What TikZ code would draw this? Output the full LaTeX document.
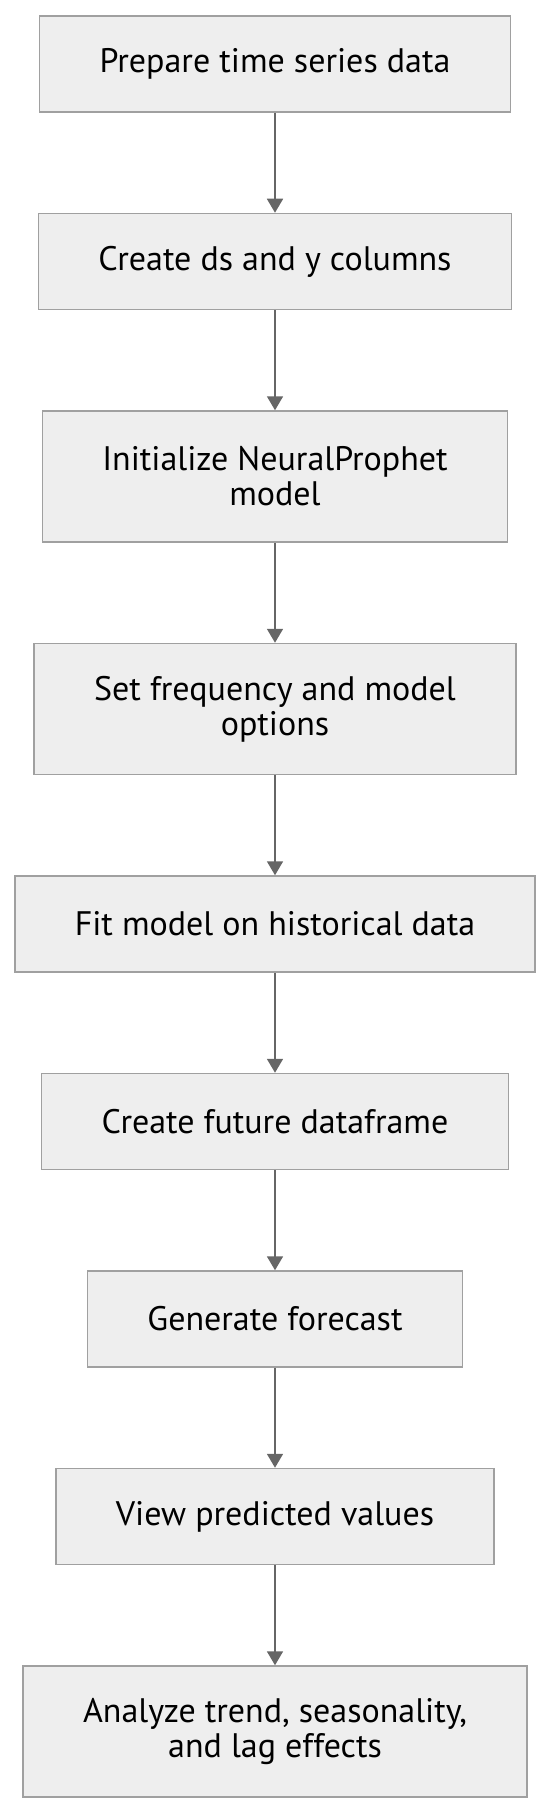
\documentclass[tikz,border=0pt]{standalone}
\usepackage{fontspec}
\setmainfont{PT Sans}
\usetikzlibrary{positioning,arrows.meta}
\definecolor{boxfill}{HTML}{EEEEEE}
\definecolor{boxline}{HTML}{A0A0A0}
\definecolor{flowline}{HTML}{666666}
\begin{document}
\begin{tikzpicture}[x=1pt,y=1pt,
    stepbox/.style={draw=boxline,line width=1.5pt,fill=boxfill,
      minimum height=96pt,inner xsep=60pt,align=center,
      font=\fontsize{34}{35}\selectfont},
    twoline/.style={stepbox,minimum height=131pt},
    flow/.style={draw=flowline,line width=1.8pt,
      -{Triangle[width=16pt,length=14pt]}},
    node distance=100pt]
    \useasboundingbox (0,0) rectangle (550,-1811);

    % Steps
    \node[stepbox] (prep) at (275,-64) {Prepare time series data};
    \node[stepbox,below=of prep] (cols) {Create ds and y columns};
    \node[twoline,below=of cols] (init) {Initialize NeuralProphet\\model};
    \node[twoline,below=of init] (freq) {Set frequency and model\\options};
    \node[stepbox,below=of freq] (fit) {Fit model on historical data};
    \node[stepbox,below=of fit] (future) {Create future dataframe};
    \node[stepbox,below=of future] (forecast) {Generate forecast};
    \node[stepbox,below=of forecast] (view) {View predicted values};
    \node[twoline,below=of view] (analyze) {Analyze trend, seasonality,\\and lag effects};

    % Arrows
    \foreach \a/\b in {prep/cols,cols/init,init/freq,freq/fit,fit/future,
        future/forecast,forecast/view,view/analyze}
      \draw[flow] (\a) -- (\b);
\end{tikzpicture}
\end{document}
